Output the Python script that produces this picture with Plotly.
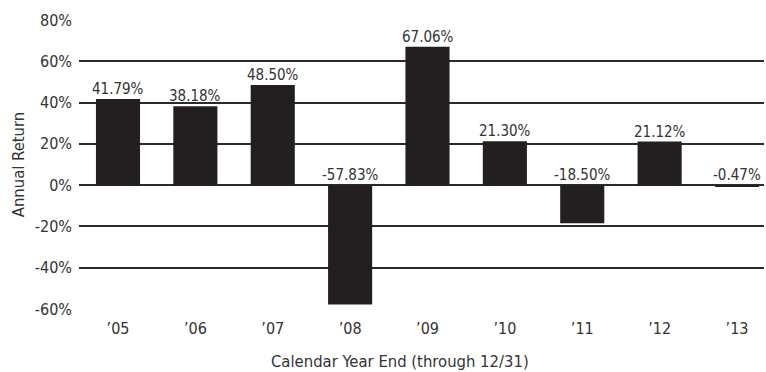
import plotly.graph_objects as go

years = ["’05", "’06", "’07", "’08", "’09", "’10", "’11", "’12", "’13"]
returns = [41.79, 38.18, 48.50, -57.83, 67.06, 21.30, -18.50, 21.12, -0.47]
y_ticks = [-60, -40, -20, 0, 20, 40, 60, 80]
y_tick_text = [f"{v}%" for v in y_ticks]
x_title = "Calendar Year End (through 12/31)"
y_title = "Annual Return"

FONT = "DejaVu Sans Condensed, sans-serif"
TXT = "#333333"
BAR = "#231f20"
GRID = "#2a2a2a"

fig = go.Figure()
fig.add_trace(go.Bar(
    x=years, y=returns, marker=dict(color=BAR, line=dict(width=0)),
    width=0.57, showlegend=False,
))

for yr, v in zip(years, returns):
    fig.add_annotation(x=yr, y=max(v, 0), text=f"{v:.2f}%", showarrow=False,
                       yanchor="bottom", yshift=-1,
                       font=dict(family=FONT, size=15, color=TXT))

fig.add_annotation(xref="paper", yref="paper", x=0.468, y=-0.18,
                   text=x_title, showarrow=False, xanchor="center", yanchor="middle",
                   font=dict(family=FONT, size=16.5, color=TXT))

fig.update_layout(
    width=766, height=372,
    margin=dict(l=79, r=2, t=20, b=63),
    paper_bgcolor="white", plot_bgcolor="white",
    font=dict(family=FONT, size=16, color=TXT),
)
fig.update_xaxes(
    range=[-0.504, 8.349], showgrid=False, showline=False, ticks="",
    ticklabelstandoff=8,
    tickfont=dict(family=FONT, size=16, color=TXT),
)
fig.update_yaxes(
    range=[-60, 80], tickvals=y_ticks, ticktext=y_tick_text,
    showgrid=True, gridcolor=GRID, gridwidth=1.5,
    zeroline=True, zerolinecolor=GRID, zerolinewidth=1.5,
    showline=False, ticks="", ticklabelstandoff=6,
    tickfont=dict(family=FONT, size=16, color=TXT),
    title=dict(text=y_title, standoff=6,
               font=dict(family=FONT, size=16.5, color=TXT)),
)

fig.write_html("out.html")
